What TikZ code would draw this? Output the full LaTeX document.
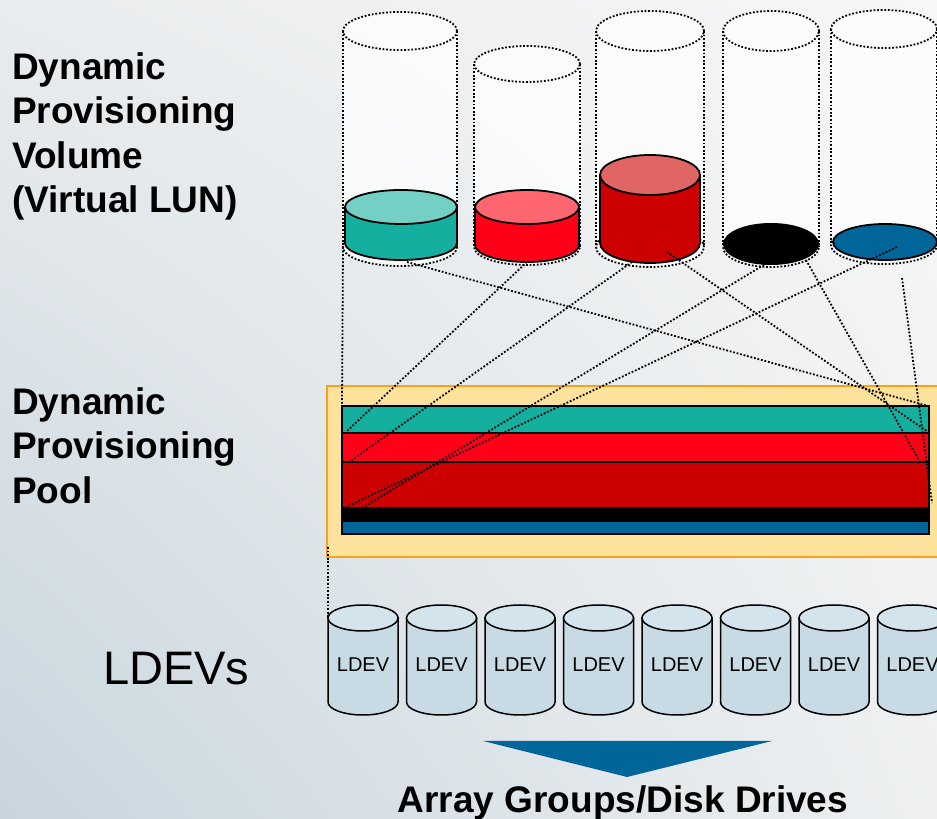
\documentclass[tikz,border=0pt]{standalone}
\usepackage{fontspec}
\setmainfont{Liberation Sans}
\usetikzlibrary{shadings}

\definecolor{bgTL}{HTML}{E9ECEE}
\definecolor{bgTR}{HTML}{F7F7F7}
\definecolor{bgBL}{HTML}{C8D5DE}
\definecolor{bgBR}{HTML}{EEF0F1}
\definecolor{tealbody}{HTML}{14AF9F}
\definecolor{tealtop}{HTML}{74CFC5}
\definecolor{redbody}{HTML}{FF0019}
\definecolor{redtop}{HTML}{FF6670}
\definecolor{dredbody}{HTML}{CC0000}
\definecolor{dredtop}{HTML}{E06666}
\definecolor{bluevol}{HTML}{006699}
\definecolor{poolfill}{HTML}{FCE29A}
\definecolor{poolrim}{HTML}{F9A11B}
\definecolor{ldevfill}{HTML}{C8DBE5}
\definecolor{ldevtop}{HTML}{D3E4EC}

\tikzset{
  dotline/.style={line width=1.8pt, dash pattern=on 1.8pt off 1.8pt},
  rim/.style={draw=black, line width=1.8pt},
  lbl/.style={font=\fontsize{37}{44.5}\selectfont\bfseries, align=left, inner sep=0pt, anchor=north west},
  ldevtext/.style={font=\fontsize{20}{24}\selectfont, inner sep=0pt}
}

\begin{document}
\begin{tikzpicture}[x=1pt, y=1pt]
    % 0. Nen
    \useasboundingbox (0,0) rectangle (937,819);
    \clip (0,0) rectangle (937,819);
    \shade[upper left=bgTL, upper right=bgTR, lower left=bgBL, lower right=bgBR]
        (0,0) rectangle (937,819);

    % 1. Cac volume ao (net cham)
    \foreach \cx/\rx/\ty/\by/\ry in {400/57/788/572/19, 527/53/755/572/18,
        650/54/788/572/20, 771/48/788/572/20, 884/53/790/574/19}{
        \fill[white, opacity=0.75] (\cx-\rx,\by) -- (\cx-\rx,\ty)
            arc[start angle=180, end angle=0, x radius=\rx, y radius=\ry] -- (\cx+\rx,\by)
            arc[start angle=0, end angle=-180, x radius=\rx, y radius=\ry] -- cycle;
        \draw[dotline] (\cx,\ty) ellipse[x radius=\rx, y radius=\ry];
        \draw[dotline] (\cx,\by) ellipse[x radius=\rx, y radius=\ry];
        \draw[dotline] (\cx-\rx,\ty) -- (\cx-\rx,\by);
        \draw[dotline] (\cx+\rx,\ty) -- (\cx+\rx,\by);
    }

    % 2. Phan du lieu da dung
    \foreach \cx/\rx/\ty/\by/\ry/\cb/\ct in {401/56/612/576/17/tealbody/tealtop,
        527/52/612/574/17/redbody/redtop, 650/50/644/576/20/dredbody/dredtop}{
        \filldraw[rim, fill=\cb] (\cx-\rx,\ty) -- (\cx-\rx,\by)
            arc[start angle=180, end angle=360, x radius=\rx, y radius=\ry] -- (\cx+\rx,\ty) -- cycle;
        \filldraw[rim, fill=\ct] (\cx,\ty) ellipse[x radius=\rx, y radius=\ry];
    }
    \fill[black] (771,575) ellipse (48 and 21);
    \filldraw[rim, fill=bluevol] (885,577) ellipse (52 and 18);

    % 3. Pool
    \filldraw[fill=poolfill, draw=poolrim, line width=2pt] (327,262) rectangle (945,433);
    \foreach \ya/\yb/\c in {386/413/tealbody, 357/386/redbody, 311/357/dredbody,
        298/311/black, 285/298/bluevol}{
        \filldraw[fill=\c, draw=black, line width=1.6pt] (342,\ya) rectangle (929,\yb);
    }

    % 4. Duong noi volume -> pool
    \coordinate (tealEdge) at (343,572);
    \coordinate (tealBot)  at (407,557);
    \coordinate (redBot)   at (527,557);
    \coordinate (dredBotL) at (632,557);
    \coordinate (dredBotR) at (667,567);
    \coordinate (blackBotL) at (767,556);
    \coordinate (blackBotR) at (806,559);
    \coordinate (blueIn)   at (897,572);
    \coordinate (blueBot)  at (902,541);
    \coordinate (poolTealL) at (342,413);
    \coordinate (poolTealR) at (928,413);
    \coordinate (poolRedL)  at (346,387);
    \coordinate (poolRedR)  at (928,387);
    \coordinate (poolDredL) at (349,357);
    \coordinate (poolDredR) at (920,357);
    \coordinate (poolBlackA) at (362,311);
    \coordinate (poolBlackB) at (344,311);
    \coordinate (poolEnd)   at (932,316);
    \coordinate (poolBL)    at (328,272);
    \coordinate (ldevTL)    at (328,201);

    \draw[dotline] (tealEdge) -- (poolTealL);
    \draw[dotline] (tealBot) -- (poolTealR);
    \draw[dotline] (redBot) -- (poolRedL);
    \draw[dotline] (dredBotL) -- (poolDredL);
    \draw[dotline] (dredBotR) -- (poolRedR);
    \draw[dotline] (blackBotL) -- (poolBlackA);
    \draw[dotline] (blackBotR) -- (poolDredR);
    \draw[dotline] (blueIn) -- (poolBlackB);
    \draw[dotline] (blueBot) -- (poolEnd);
    \draw[dotline] (poolBL) -- (ldevTL);

    % 5. Cac LDEV
    \foreach \i in {0,...,7}{
        \pgfmathsetmacro{\cx}{363+78.5*\i}
        \filldraw[rim, line width=1.5pt, fill=ldevfill] (\cx-35,201) -- (\cx-35,117)
            arc (180:360:35 and 13) -- (\cx+35,201) -- cycle;
        \filldraw[rim, line width=1.5pt, fill=ldevtop] (\cx,201) ellipse (35 and 13);
        \node[ldevtext] (ldev\i) at (\cx,154) {LDEV};
    }

    % 6. Mui ten xuong
    \fill[bluevol] (483,78) -- (772,78) -- (627,42) -- cycle;

    % 7. Nhan
    \node[lbl] (volLabel) at (12,767) {Dynamic\\Provisioning\\Volume\\(Virtual LUN)};
    \node[lbl] (poolLabel) at (12,432) {Dynamic\\Provisioning\\Pool};
    \node[font=\fontsize{47}{56}\selectfont, inner sep=0pt, anchor=base west]
        (ldevLabel) at (103,134) {LDEVs};
    \node[font=\fontsize{37}{44.5}\selectfont\bfseries, inner sep=0pt, anchor=base]
        (driveLabel) at (623,6) {Array Groups/Disk Drives};
\end{tikzpicture}
\end{document}
